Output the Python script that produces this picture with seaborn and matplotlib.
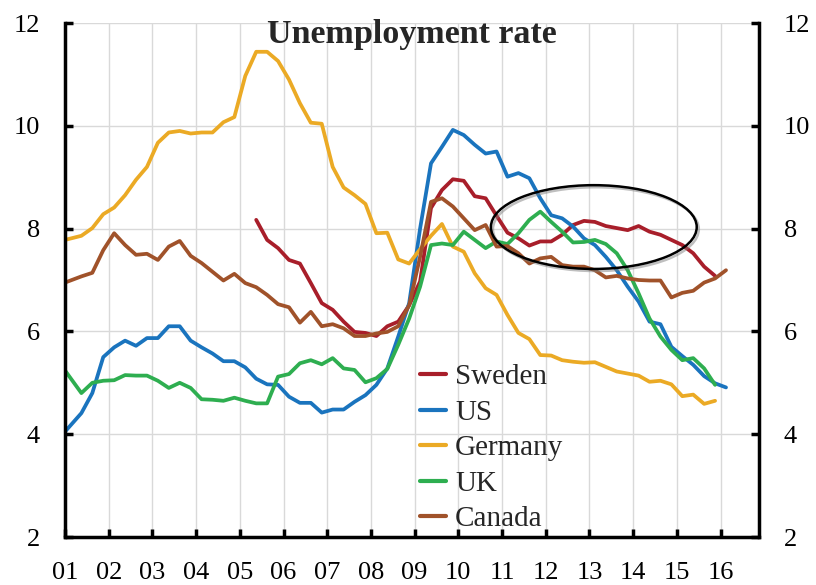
import matplotlib
matplotlib.use("Agg")
import matplotlib.pyplot as plt
import matplotlib.patheffects as pe
from matplotlib.patches import Ellipse
import numpy as np
import pandas as pd
import seaborn as sns

nan = float("nan")

# ---------------- data (quarterly, %) ----------------
n_points = 61
dates = [2001.0] + [2001.125 + 0.25 * k for k in range(1, n_points)]

countries = ["Sweden", "US", "Germany", "UK", "Canada"]

sweden = [nan] * 17 + [
    8.17, 7.78, 7.62, 7.39, 7.32, 6.94, 6.55, 6.42, 6.19, 5.99,
    5.97, 5.91, 6.10, 6.19, 6.51, 6.97, 8.40, 8.75, 8.96, 8.93,
    8.63, 8.59, 8.25, 7.92, 7.81, 7.67, 7.75, 7.75, 7.88, 8.07,
    8.15, 8.13, 8.05, 8.01, 7.97, 8.05, 7.94, 7.88, 7.78, 7.68,
    7.52, 7.26, 7.08]

us = [4.05, 4.41, 4.80, 5.50, 5.69, 5.82, 5.72, 5.87, 5.87, 6.10,
      6.10, 5.82, 5.69, 5.57, 5.42, 5.42, 5.30, 5.08, 4.97, 4.96,
      4.73, 4.61, 4.61, 4.42, 4.48, 4.48, 4.63, 4.76, 4.96, 5.28,
      5.90, 6.55, 8.00, 9.27, 9.59, 9.92, 9.82, 9.63, 9.46, 9.50,
      9.01, 9.08, 8.98, 8.59, 8.26, 8.20, 8.04, 7.81, 7.68, 7.45,
      7.19, 6.87, 6.58, 6.19, 6.14, 5.70, 5.52, 5.35, 5.13, 4.99,
      4.91]

germany = [7.78, 7.86, 8.01, 8.28, 8.41, 8.65, 8.95, 9.20, 9.67, 9.87,
           9.90, 9.85, 9.87, 9.87, 10.07, 10.17, 10.97, 11.44, 11.44, 11.26,
           10.90, 10.44, 10.06, 10.04, 9.20, 8.80, 8.65, 8.48, 7.91, 7.92,
           7.40, 7.32, 7.60, 7.86, 8.09, 7.65, 7.55, 7.13, 6.84, 6.71,
           6.32, 5.97, 5.85, 5.54, 5.53, 5.44, 5.41, 5.39, 5.40, 5.31,
           5.22, 5.18, 5.14, 5.02, 5.04, 4.97, 4.74, 4.77, 4.59, 4.65]

uk = [5.24, 4.80, 5.00, 5.04, 5.05, 5.15, 5.14, 5.14, 5.04, 4.90,
      5.00, 4.90, 4.68, 4.67, 4.65, 4.71, 4.65, 4.60, 4.60, 5.12,
      5.17, 5.38, 5.44, 5.36, 5.48, 5.28, 5.25, 5.01, 5.09, 5.27,
      5.74, 6.25, 6.87, 7.68, 7.71, 7.68, 7.94, 7.78, 7.62, 7.75,
      7.70, 7.91, 8.17, 8.33, 8.13, 7.94, 7.73, 7.74, 7.78, 7.70,
      7.52, 7.19, 6.74, 6.25, 5.90, 5.64, 5.44, 5.48, 5.28, 4.96]

canada = [6.95, 7.07, 7.14, 7.58, 7.91, 7.68, 7.49, 7.51, 7.39, 7.65,
          7.76, 7.47, 7.33, 7.16, 6.99, 7.12, 6.94, 6.86, 6.71, 6.53,
          6.47, 6.17, 6.38, 6.10, 6.14, 6.06, 5.91, 5.91, 5.96, 5.99,
          6.10, 6.51, 7.45, 8.52, 8.59, 8.43, 8.20, 7.97, 8.07, 7.65,
          7.66, 7.52, 7.32, 7.42, 7.45, 7.29, 7.26, 7.26, 7.19, 7.05,
          7.08, 7.03, 7.00, 6.99, 6.99, 6.66, 6.75, 6.79, 6.95, 7.03,
          7.19]

years = list(range(2001, 2017))
year_labels = ["01", "02", "03", "04", "05", "06", "07", "08",
               "09", "10", "11", "12", "13", "14", "15", "16"]
y_ticks = [2, 4, 6, 8, 10, 12]

colors = {"Sweden": "#A81E2A", "US": "#1A74BE", "Germany": "#EBAA25",
          "UK": "#2EAE50", "Canada": "#A0522A"}

series = {"Sweden": sweden, "US": us, "Germany": germany, "UK": uk, "Canada": canada}
rows = []
for c in countries:
    for d, v in zip(dates, series[c]):
        if not np.isnan(v):
            rows.append((c, d, v))
df = pd.DataFrame(rows, columns=["country", "date", "rate"])

# ---------------- style ----------------
sns.set_style("white")
plt.rcParams["font.family"] = ["Liberation Serif", "DejaVu Serif"]

fig = plt.figure(figsize=(8.16, 5.85), dpi=100)
ax = fig.add_axes([65 / 816, 48 / 585, 694 / 816, 514 / 585])

sns.lineplot(data=df, x="date", y="rate", hue="country", hue_order=countries,
             palette=colors, linewidth=2.7, estimator=None, ax=ax)

ax.set_xlim(2001, 2016.88)
ax.set_ylim(2, 12)
ax.set_xticks(years)
ax.set_xticklabels(year_labels)
ax.set_yticks(y_ticks)
ax.set_xlabel("")
ax.set_ylabel("")

ax.grid(True, color="#d9d9d9", linewidth=1)
ax.set_axisbelow(True)

ax.spines["top"].set_visible(False)
for s in ["left", "bottom", "right"]:
    ax.spines[s].set_visible(True)
    ax.spines[s].set_color("black")
    ax.spines[s].set_linewidth(2.5)

ax.tick_params(axis="both", direction="in", length=6, width=2.5,
               labelsize=19, pad=18, colors="black")
ax.tick_params(axis="y", left=True, right=True, labelleft=True, labelright=True)
ax.tick_params(axis="x", bottom=True)

ax.text(0.5, 0.961, "Unemployment rate", transform=ax.transAxes,
        ha="center", va="baseline", fontsize=24.5, fontweight="bold")

handles, labels = ax.get_legend_handles_labels()
leg = ax.legend(handles, labels, loc="upper left",
                bbox_to_anchor=(420 / 816, 1 - 364 / 585),
                bbox_transform=fig.transFigure, frameon=False,
                fontsize=21, handlelength=0.9, handletextpad=0.3,
                labelspacing=0.31, borderpad=0, borderaxespad=0)
for h in leg.legend_handles:
    h.set_linewidth(3)

ell = Ellipse((2013.1, 8.03), 4.71, 1.63, fill=False, edgecolor="black",
              linewidth=1.8, zorder=5,
              path_effects=[pe.SimpleLineShadow(offset=(1.5, -1.5),
                                                shadow_color="gray", alpha=0.5),
                            pe.Normal()])
ax.add_patch(ell)

fig.savefig("out.png", dpi=100)
